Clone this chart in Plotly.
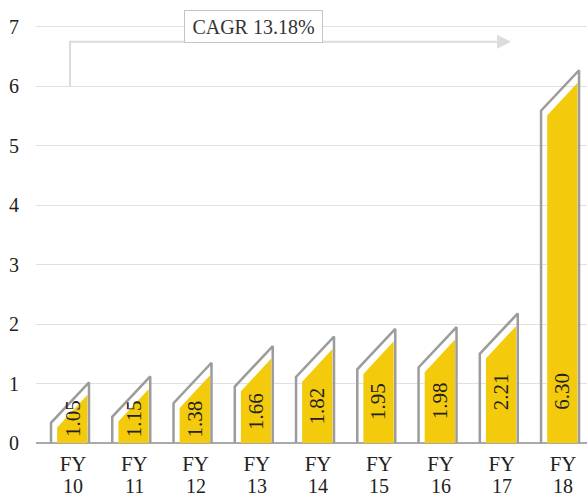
import plotly.graph_objects as go

categories = ["FY10", "FY11", "FY12", "FY13", "FY14", "FY15", "FY16", "FY17", "FY18"]
values = [1.05, 1.15, 1.38, 1.66, 1.82, 1.95, 1.98, 2.21, 6.30]
value_labels = ["1.05", "1.15", "1.38", "1.66", "1.82", "1.95", "1.98", "2.21", "6.30"]
cagr_text = "CAGR 13.18%"
y_ticks = [0, 1, 2, 3, 4, 5, 6, 7]

FONT = "'Liberation Serif', 'DejaVu Serif', serif"
YELLOW = "#F3CB0C"
GRAY = "#9c9c9c"

HW = 0.31        # half width of bar (category units)
DROP = 0.68      # slant drop from right to left
idx = list(range(len(values)))

ox, oy, yx, yy = [], [], [], []
for i, v in zip(idx, values):
    top_r = v - 0.03
    top_l = top_r - DROP
    ox += [i - HW, i - HW, i + HW, i + HW, None]
    oy += [0, top_l, top_r, 0, None]
    xl, xr = i - HW + 0.10, i + HW - 0.025
    yx += [xl, xl, xr, xr, xl, None]
    yy += [0, v - 0.79, v - 0.24, 0, 0, None]

fig = go.Figure()
fig.add_trace(go.Scatter(x=yx, y=yy, mode="lines", fill="toself", fillcolor=YELLOW,
                         line=dict(width=0, color=YELLOW), hoverinfo="skip", showlegend=False))
fig.add_trace(go.Scatter(x=ox, y=oy, mode="lines", line=dict(width=2.5, color=GRAY),
                         hoverinfo="skip", showlegend=False))

# CAGR path
fig.add_trace(go.Scatter(x=[0, 0, 7.1], y=[6, 6.75, 6.75], mode="lines",
                         line=dict(width=2, color="#dcdcdc"), hoverinfo="skip", showlegend=False))
fig.add_annotation(x=7.2, y=6.75, ax=7.0, ay=6.75, axref="x", ayref="y", xref="x", yref="y",
                   text="", showarrow=True, arrowhead=2, arrowsize=1.4, arrowwidth=2,
                   arrowcolor="#dcdcdc", standoff=0)

# value labels
for i, v, t in zip(idx, values, value_labels):
    yc = min(max(0.6 * (v - 1.3), 0.1), 0.56) + 0.31
    fig.add_annotation(x=i + 0.04, y=yc, text=t, showarrow=False, textangle=-90,
                       font=dict(family=FONT, size=21, color="#222222"))

# second line of category labels (year numbers)
for i, c in zip(idx, categories):
    fig.add_annotation(x=i + 0.05, y=0, yref="y", text=c[2:], showarrow=False,
                       yanchor="middle", yshift=-43,
                       font=dict(family=FONT, size=20, color="#222222"))

fig.add_annotation(x=3, y=7, text=cagr_text, showarrow=False, bgcolor="white",
                   bordercolor="#c4c4c4", borderwidth=1, borderpad=1, width=135, height=29,
                   font=dict(family=FONT, size=20, color="#333333"))

fig.update_layout(
    width=587, height=496,
    margin=dict(l=36, r=0, t=9, b=53),
    paper_bgcolor="white", plot_bgcolor="white",
    font=dict(family=FONT),
    xaxis=dict(range=[-0.555, 8.44], tickmode="array", tickvals=[i + 0.05 for i in idx],
               ticktext=[c[:2] for c in categories], automargin=False,
               showgrid=False, zeroline=False, showline=False,
               ticks="outside", ticklen=2, tickcolor="rgba(0,0,0,0)",
               tickfont=dict(family=FONT, size=21, color="#222222")),
    yaxis=dict(range=[0, 7.3], tickmode="array", tickvals=y_ticks, automargin=False,
               showgrid=True, gridcolor="#e0e0e0", gridwidth=1,
               zeroline=True, zerolinecolor="#aaaaaa", zerolinewidth=1.5,
               showline=False, ticks="outside", ticklen=12, tickcolor="rgba(0,0,0,0)",
               tickfont=dict(family=FONT, size=20, color="#222222")),
)

fig.write_html("out.html", config={"displayModeBar": False},
               post_script="document.body.style.margin='0';document.body.style.padding='0';document.body.style.overflow='hidden';")
